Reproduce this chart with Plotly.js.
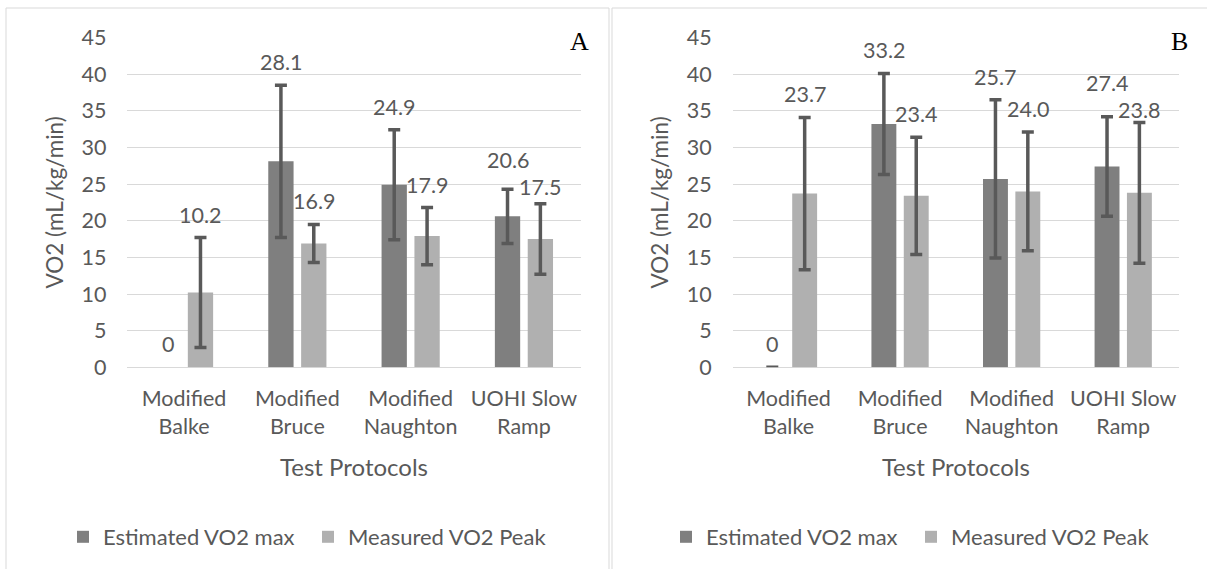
<!DOCTYPE html>
<html><head><meta charset="utf-8">
<script src="https://cdn.plot.ly/plotly-3.0.1.min.js"></script>
<style>html,body{margin:0;padding:0;background:#fff}#chart{width:1207px;height:569px}</style>
</head><body><div id="chart"></div>
<script>
// ---- data ----
const categories = ['Modified<br>Balke', 'Modified<br>Bruce', 'Modified<br>Naughton', 'UOHI Slow<br>Ramp'];
const seriesNames = ['Estimated VO2 max', 'Measured VO2 Peak'];
const estA = [0, 28.1, 24.9, 20.6];
const estAErr = [null, 10.4, 7.5, 3.7];
const measA = [10.2, 16.9, 17.9, 17.5];
const measAErr = [7.5, 2.6, 3.9, 4.8];
const estB = [0, 33.2, 25.7, 27.4];
const estBErr = [0, 6.9, 10.8, 6.8];
const measB = [23.7, 23.4, 24.0, 23.8];
const measBErr = [10.4, 8.0, 8.1, 9.6];
const yTickVals = [0, 5, 10, 15, 20, 25, 30, 35, 40, 45];
const panelLetters = ['A', 'B'];
const xTitle = 'Test Protocols';
const yTitle = 'VO2 (mL/kg/min)';

// ---- styling ----
const W = 1207, H = 569;
const FONT = 'Lato, "Liberation Sans", sans-serif';
const TXT = '#595959';
const DARK = '#7f7f7f', LIGHT = '#b0b0b0', ERR = '#595959', GRID = '#d9d9d9';
const BARGAP = 0.42, GROUPGAP = 0.23;
const px = v => v / W, py = v => 1 - v / H;
const PLOT_TOP = 37.5, PLOT_BOTTOM = 367.3, YMAX = 45;
const pxPerUnit = (PLOT_BOTTOM - PLOT_TOP) / YMAX;

function errCfg(arr) {
  // missing error values are not drawn
  return {type: 'data', array: arr.map(e => e == null ? NaN : e), visible: true,
    color: ERR, thickness: 3.5, width: 6};
}
function barTrace(name, x, y, err, color, xa, ya, legend) {
  return {type: 'bar', name: name, x: x, y: y, error_y: errCfg(err),
    marker: {color: color, line: {width: 0}}, xaxis: xa, yaxis: ya,
    legend: legend, showlegend: true, hoverinfo: 'skip'};
}
const data = [
  barTrace(seriesNames[0], categories, estA, estAErr, DARK, 'x', 'y', 'legend'),
  barTrace(seriesNames[1], categories, measA, measAErr, LIGHT, 'x', 'y', 'legend'),
  barTrace(seriesNames[0], categories, estB, estBErr, DARK, 'x2', 'y2', 'legend2'),
  barTrace(seriesNames[1], categories, measB, measBErr, LIGHT, 'x2', 'y2', 'legend2')
];

// data labels above the error bars, pushed apart when two of a group collide
const fmt = v => v === 0 ? '0' : v.toFixed(1);
const slot = (1 - BARGAP) / 2;
const LABEL_SHIFT = 23, MIN_SEP = 27;
const annotations = [];
function labelFont() { return {family: FONT, size: 21.5, color: TXT}; }
function addPanelLabels(est, estErr, meas, measErr, xr, yr) {
  est.forEach((ve, i) => {
    const vm = meas[i];
    const te = ve + (estErr[i] == null ? 0 : estErr[i]);
    const tm = vm + (measErr[i] == null ? 0 : measErr[i]);
    let se = LABEL_SHIFT, sm = LABEL_SHIFT;
    const dpx = (te - tm) * pxPerUnit;  // >0 : estimated label higher
    if (Math.abs(dpx) < MIN_SEP) {
      const extra = (MIN_SEP - Math.abs(dpx)) / 2;
      if (dpx >= 0) { se += extra; sm -= extra; } else { se -= extra; sm += extra; }
    }
    annotations.push({xref: xr, yref: yr, x: i - slot / 2, y: te, text: fmt(ve), showarrow: false,
      yanchor: 'middle', yshift: se, font: labelFont()});
    annotations.push({xref: xr, yref: yr, x: i + slot / 2, y: tm, text: fmt(vm), showarrow: false,
      yanchor: 'middle', yshift: sm, font: labelFont()});
  });
}
addPanelLabels(estA, estAErr, measA, measAErr, 'x', 'y');
addPanelLabels(estB, estBErr, measB, measBErr, 'x2', 'y2');
// panel letters
const letterFont = {family: '"Liberation Serif", "Times New Roman", serif', size: 26, color: '#000'};
annotations.push({xref: 'paper', yref: 'paper', x: px(579), y: py(41), text: panelLetters[0],
  showarrow: false, xanchor: 'center', yanchor: 'middle', font: letterFont});
annotations.push({xref: 'paper', yref: 'paper', x: px(1179), y: py(41), text: panelLetters[1],
  showarrow: false, xanchor: 'center', yanchor: 'middle', font: letterFont});

const yDom = [py(PLOT_BOTTOM), py(PLOT_TOP)];
function xAxis(dom, anchor) {
  return {domain: dom, anchor: anchor, type: 'category', showgrid: false, zeroline: false,
    showline: false, ticks: '', ticklabelstandoff: 16,
    tickfont: {family: FONT, size: 21.5, color: TXT},
    title: {text: xTitle, font: {family: FONT, size: 24, color: TXT}, standoff: 21}};
}
function yAxis(anchor) {
  return {domain: yDom, anchor: anchor, range: [0, YMAX], tickvals: yTickVals, showgrid: true,
    gridcolor: GRID, gridwidth: 1, zeroline: true, zerolinecolor: GRID, zerolinewidth: 1.5,
    showline: false, ticks: '', ticklabelstandoff: 20, fixedrange: true,
    tickfont: {family: FONT, size: 21.5, color: TXT},
    title: {text: yTitle, font: {family: FONT, size: 22.5, color: TXT}, standoff: 11}};
}
function legendCfg(x) {
  return {orientation: 'h', x: x, xanchor: 'left', y: py(537), yanchor: 'middle',
    entrywidth: 200, entrywidthmode: 'pixels',
    bgcolor: 'rgba(0,0,0,0)', font: {family: FONT, size: 22, color: TXT}, itemclick: false};
}

const layout = {
  width: W, height: H, margin: {l: 0, r: 0, t: 0, b: 0},
  paper_bgcolor: '#fff', plot_bgcolor: 'rgba(0,0,0,0)',
  font: {family: FONT, color: TXT},
  barmode: 'group', bargap: BARGAP, bargroupgap: GROUPGAP,
  xaxis: xAxis([px(127.4), px(580.6)], 'y'),
  yaxis: yAxis('x'),
  xaxis2: xAxis([px(732.7), px(1179)], 'y2'),
  yaxis2: yAxis('x2'),
  legend: legendCfg(px(63)),
  legend2: legendCfg(px(666)),
  annotations: annotations,
  shapes: [
    {type: 'rect', xref: 'paper', yref: 'paper', x0: px(6), x1: px(609), y0: -0.05, y1: py(8), line: {color: GRID, width: 1}},
    {type: 'rect', xref: 'paper', yref: 'paper', x0: px(612), x1: 1.05, y0: -0.05, y1: py(8), line: {color: GRID, width: 1}}
  ],
  hovermode: false
};
Plotly.newPlot('chart', data, layout, {staticPlot: true, displayModeBar: false});
</script></body></html>
